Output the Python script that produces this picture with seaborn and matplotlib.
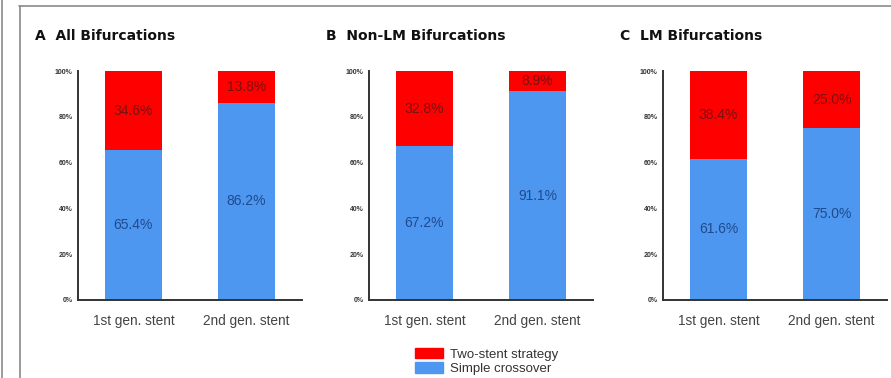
import numpy as np
import pandas as pd
import seaborn as sns
import matplotlib.pyplot as plt
from matplotlib.lines import Line2D
from matplotlib.patches import Patch

sns.set_style("white")
plt.rcParams['font.family'] = ['Liberation Sans', 'DejaVu Sans']

# data
stents = ["1st gen. stent", "2nd gen. stent"]
titles = ["A  All Bifurcations", "B  Non-LM Bifurcations", "C  LM Bifurcations"]
simple_all = [65.4, 86.2]
simple_nonlm = [67.2, 91.1]
simple_lm = [61.6, 75.0]
two_all = [34.6, 13.8]
two_nonlm = [32.8, 8.9]
two_lm = [38.4, 25.0]
yticks = [0, 20, 40, 60, 80, 100]

simple = [simple_all, simple_nonlm, simple_lm]
two = [two_all, two_nonlm, two_lm]

red = "#fe0000"
blue = "#4e97f1"

fig = plt.figure(figsize=(8.91, 3.78), dpi=100)
lefts = [78 / 891, 369 / 891, 663 / 891]
bottom = 1 - 300 / 378
height = (300 - 71) / 378
width = 224 / 891

for i in range(3):
    ax = fig.add_axes([lefts[i], bottom, width, height])
    df = pd.DataFrame({"stent": stents, "simple": simple[i], "two": two[i]})
    df["total"] = df["simple"] + df["two"]
    sns.barplot(data=df, x="stent", y="total", color=red, width=0.51,
                saturation=1, linewidth=0, ax=ax)
    sns.barplot(data=df, x="stent", y="simple", color=blue, width=0.51,
                saturation=1, linewidth=0, ax=ax)
    for j, row in df.iterrows():
        ax.text(j, row["simple"] + row["two"] / 2, f"{row['two']:.1f}%",
                ha="center", va="center", fontsize=10, color="#7a1010")
        ax.text(j, row["simple"] / 2, f"{row['simple']:.1f}%",
                ha="center", va="center", fontsize=10, color="#1f4a8c")
    ax.set_xlim(-0.49, 1.49)
    ax.set_ylim(0, 100)
    ax.set_yticks(yticks)
    ax.set_yticklabels([f"{t}%" for t in yticks], fontsize=5, fontweight="bold",
                       color="#333333")
    ax.tick_params(axis="x", labelsize=9.8, colors="#333333", length=3,
                   direction="out", pad=7)
    ax.tick_params(axis="y", length=3, direction="out", pad=1, colors="#333333")
    ax.tick_params(axis="x", labelcolor="#444444")
    ax.set_xlabel("")
    ax.set_ylabel("")
    sns.despine(ax=ax)
    for s in ["left", "bottom"]:
        ax.spines[s].set_linewidth(1.4)
        ax.spines[s].set_color("#333333")
    ax.text(-0.19, 1.155, titles[i], transform=ax.transAxes, fontsize=10,
            fontweight="bold", family="DejaVu Sans", color="#111111",
            ha="left", va="center")

# legend
handles = [Patch(color=red), Patch(color=blue)]
fig.legend(handles, ["Two-stent strategy", "Simple crossover"],
           loc="upper left", bbox_to_anchor=(403 / 891, 1 - 336 / 378),
           frameon=False, fontsize=9.5, handlelength=2.1, handleheight=0.8,
           handletextpad=0.6, labelspacing=0.15, labelcolor="#333333")

# frame lines
fig.add_artist(Line2D([1.5 / 891, 1.5 / 891], [0, 1], color="#8a8a8a", lw=1.2))
fig.add_artist(Line2D([19.5 / 891, 19.5 / 891], [0, 1 - 6 / 378],
                      color="#8a8a8a", lw=1.2))
fig.add_artist(Line2D([19 / 891, 1], [1 - 6 / 378, 1 - 6 / 378],
                      color="#8a8a8a", lw=1.2))

fig.savefig("out.png", dpi=100)
